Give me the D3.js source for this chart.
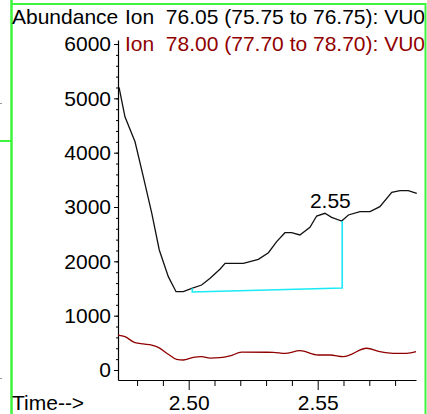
<!DOCTYPE html>
<html>
<head>
<meta charset="utf-8">
<script src="https://cdn.jsdelivr.net/npm/d3@7"></script>
<style>
  html, body { margin: 0; padding: 0; background: #fff; }
  svg { display: block; font-family: "Liberation Sans", Arial, sans-serif; }
</style>
</head>
<body>
<svg id="chart" width="427" height="414"></svg>
<script>
// ---- data ----
const ion76Time = [2.4730, 2.4753, 2.4792, 2.4824, 2.4857, 2.4886, 2.4921, 2.4951, 2.4979, 2.5012,
  2.5050, 2.5083, 2.5122, 2.5141, 2.5212, 2.5270, 2.5309, 2.5341, 2.5373, 2.5399,
  2.5431, 2.5470, 2.5496, 2.5528, 2.5554, 2.5593, 2.5619, 2.5664, 2.5703, 2.5741,
  2.5787, 2.5819, 2.5851, 2.5884];
const ion76Abund = [5200, 4660, 4200, 3558, 2884, 2209, 1718, 1441, 1441, 1503,
  1564, 1687, 1860, 1964, 1964, 2038, 2159, 2362, 2527, 2527,
  2485, 2626, 2834, 2884, 2810, 2742, 2853, 2914, 2914, 3006,
  3271, 3300, 3300, 3252];
const ion78Time = [2.4726, 2.4753, 2.4792, 2.4824, 2.4857, 2.4882, 2.4921, 2.4953, 2.4979, 2.5018,
  2.5050, 2.5083, 2.5121, 2.5160, 2.5205, 2.5328, 2.5373, 2.5431, 2.5502, 2.5548,
  2.5599, 2.5690, 2.5741, 2.5793, 2.5845, 2.5881];
const ion78Abund = [644, 613, 503, 479, 460, 418, 289, 196, 184, 234,
  245, 220, 226, 258, 328, 326, 307, 355, 276, 276,
  245, 400, 337, 307, 307, 337];
const legendLabels = ["Ion  76.05 (75.75 to 76.75): VU0", "Ion  78.00 (77.70 to 78.70): VU0"];
const yMajorTicks = [0, 1000, 2000, 3000, 4000, 5000, 6000];
const yMinorTicks = d3.range(0, 6001, 200);
const xMajorTicks = [2.50, 2.55];
const xMinorTicks = [2.48, 2.49, 2.51, 2.52, 2.53, 2.54, 2.56, 2.57, 2.58];
const xDomain = [2.4726, 2.5881];
const yDomain = [-184, 6074];
const integStart = {t: 2.5014, base: 1436, top: 1503};
const integEnd = {t: 2.5595, base: 1509, top: 2742};
const peakLabel = {t: 2.5549, v: 2990, text: "2.55"};

// ---- drawing ----
const svg = d3.select("#chart");
const FS = 21;
const FF = "Liberation Sans, Arial, sans-serif";
const green = "#3cf53c";
const red = "#900000";

const x = d3.scaleLinear().domain(xDomain).range([118, 416]);
const y = d3.scaleLinear().domain(yDomain).range([380, 40]);

// frame lines (green)
svg.append("line").attr("x1", 11.5).attr("x2", 11.5).attr("y1", 0).attr("y2", 414)
  .attr("stroke", green).attr("stroke-width", 2.5);
svg.append("line").attr("x1", 11).attr("x2", 426).attr("y1", 4).attr("y2", 4)
  .attr("stroke", green).attr("stroke-width", 2);
svg.append("line").attr("x1", 425.5).attr("x2", 425.5).attr("y1", 3).attr("y2", 414)
  .attr("stroke", green).attr("stroke-width", 2);
svg.append("line").attr("x1", 0).attr("x2", 11).attr("y1", 141).attr("y2", 141)
  .attr("stroke", green).attr("stroke-width", 2);
svg.append("rect").attr("x", 0).attr("y", 103).attr("width", 2).attr("height", 1).attr("fill", "#999");
svg.append("rect").attr("x", 0).attr("y", 378).attr("width", 2).attr("height", 1).attr("fill", "#999");

const defs = svg.append("defs");
defs.append("clipPath").attr("id", "clipR").append("rect")
  .attr("x", 0).attr("y", 0).attr("width", 424.5).attr("height", 414);

// header texts
svg.append("text").attr("x", 12).attr("y", 24).attr("font-size", FS).attr("fill", "#000")
  .text("Abundance");
svg.append("text").attr("x", 12).attr("y", 410).attr("font-size", FS).attr("fill", "#000")
  .text("Time-->");

const legend = svg.append("g").attr("clip-path", "url(#clipR)");
legend.selectAll("text").data(legendLabels).join("text")
  .attr("x", 125).attr("y", (d, i) => 24 + i * 27)
  .attr("font-size", FS)
  .attr("fill", (d, i) => i === 0 ? "#000" : red)
  .style("white-space", "pre")
  .attr("xml:space", "preserve")
  .text(d => d);

// y axis
const yAxisG = svg.append("g").attr("transform", "translate(118,0)");
yAxisG.call(d3.axisLeft(y).tickValues(yMinorTicks).tickSize(2).tickSizeOuter(0).tickFormat(""));
const yMajG = svg.append("g").attr("transform", "translate(118,0)");
yMajG.call(d3.axisLeft(y).tickValues(yMajorTicks).tickSize(4).tickSizeOuter(0).tickPadding(3)
  .tickFormat(d3.format("d")));
yMajG.select(".domain").remove();
yMajG.selectAll("text").attr("font-size", FS).attr("font-family", FF).attr("fill", "#000");

// x axis
const xAxisG = svg.append("g").attr("transform", "translate(0,380)");
xAxisG.call(d3.axisBottom(x).tickValues(xMinorTicks).tickSize(6).tickSizeOuter(0).tickFormat(""));
const xMajG = svg.append("g").attr("transform", "translate(0,380)");
xMajG.call(d3.axisBottom(x).tickValues(xMajorTicks).tickSize(10).tickSizeOuter(0)
  .tickFormat(d3.format(".2f")));
xMajG.select(".domain").remove();
xMajG.selectAll("text").attr("font-size", FS).attr("font-family", FF).attr("fill", "#000").attr("y", 15);
svg.selectAll(".tick line").attr("stroke", "#000");
svg.selectAll(".domain").attr("stroke", "#000").attr("stroke-width", 1.2);

// lines
const line76 = d3.line().x(d => x(d[0])).y(d => y(d[1]));
const line78 = d3.line().x(d => x(d[0])).y(d => y(d[1])).curve(d3.curveMonotoneX);
svg.append("path").datum(d3.zip(ion78Time, ion78Abund)).attr("d", line78)
  .attr("fill", "none").attr("stroke", red).attr("stroke-width", 1.3);
svg.append("path").datum(d3.zip(ion76Time, ion76Abund)).attr("d", line76)
  .attr("fill", "none").attr("stroke", "#111").attr("stroke-width", 1.3);

// integration baseline
const integ = [[integStart.t, integStart.top], [integStart.t, integStart.base],
  [integEnd.t, integEnd.base], [integEnd.t, integEnd.top]];
svg.append("path").datum(integ).attr("d", d3.line().x(d => x(d[0])).y(d => y(d[1])))
  .attr("fill", "none").attr("stroke", "#19eaf5").attr("stroke-width", 1.6);

// peak label
svg.append("text").attr("x", x(peakLabel.t)).attr("y", y(peakLabel.v))
  .attr("text-anchor", "middle").attr("font-size", FS).attr("fill", "#000")
  .text(peakLabel.text);
</script>
</body>
</html>
